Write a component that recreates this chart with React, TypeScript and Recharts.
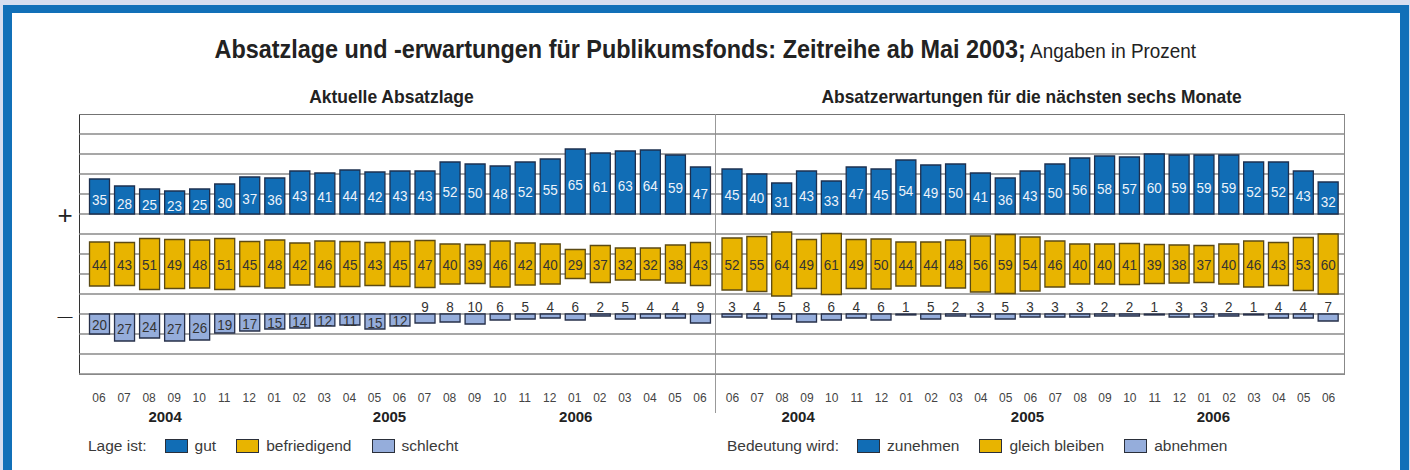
import {BarChart, Bar, XAxis, YAxis, CartesianGrid, LabelList, Legend} from 'recharts';

// Monate Juni 2004 bis Juni 2006
const months = ['06', '07', '08', '09', '10', '11', '12', '01', '02', '03', '04', '05', '06', '07', '08', '09', '10', '11', '12', '01', '02', '03', '04', '05', '06'];
const years = ['2004', '2005', '2006'];
const yearAnchor = [2, 12, 19];

// Aktuelle Absatzlage
const lageGut = [35, 28, 25, 23, 25, 30, 37, 36, 43, 41, 44, 42, 43, 43, 52, 50, 48, 52, 55, 65, 61, 63, 64, 59, 47];
const lageBefriedigend = [44, 43, 51, 49, 48, 51, 45, 48, 42, 46, 45, 43, 45, 47, 40, 39, 46, 42, 40, 29, 37, 32, 32, 38, 43];
const lageSchlecht = [20, 27, 24, 27, 26, 19, 17, 15, 14, 12, 11, 15, 12, 9, 8, 10, 6, 5, 4, 6, 2, 5, 4, 4, 9];

// Absatzerwartungen für die nächsten sechs Monate
const erwZunehmen = [45, 40, 31, 43, 33, 47, 45, 54, 49, 50, 41, 36, 43, 50, 56, 58, 57, 60, 59, 59, 59, 52, 52, 43, 32];
const erwGleich = [52, 55, 64, 49, 61, 49, 50, 44, 44, 48, 56, 59, 54, 46, 40, 40, 41, 39, 38, 37, 40, 46, 43, 53, 60];
const erwAbnehmen = [3, 4, 5, 8, 6, 4, 6, 1, 5, 2, 3, 5, 3, 3, 3, 2, 2, 1, 3, 3, 2, 1, 4, 4, 7];

const lageNames = ['gut', 'befriedigend', 'schlecht'];
const erwNames = ['zunehmen', 'gleich bleiben', 'abnehmen'];

const SANS = "'Liberation Sans', Arial, sans-serif";

const FRAME = '#1170b8';
const C_TOP = '#116db5';
const C_MID = '#e8b400';
const C_LOW = '#95addb';
const S_TOP = '#1d3050';
const S_MID = '#5b4a14';
const S_LOW = '#27304a';

// obere Balken wachsen ab 0 nach oben, mittlere um -50 zentriert, untere ab -100 nach unten
const buildRows = (top: number[], mid: number[], low: number[]) =>
    months.map((m, i) => ({
        month: m,
        top: top[i],
        mid: mid[i],
        low: low[i],
        topRange: [0, top[i]],
        midRange: [-50 - mid[i] / 2, -50 + mid[i] / 2],
        lowRange: [-100 - low[i], -100],
    }));

const gridTicks = [100, 80, 60, 40, 20, 0, -20, -40, -60, -80, -100, -120, -140, -160];

const box = (p: any) => {
    const top = Math.min(p.y, p.y + p.height);
    const h = Math.abs(p.height);
    return {cx: p.x + p.width / 2, top, h};
};

const labelText = (x: number, y: number, fill: string, v: any) => (
    <text x={x} y={y} textAnchor="middle" dominantBaseline="central" fill={fill} fontSize={15}
          fontFamily={SANS} transform={`translate(${x} 0) scale(0.9 1) translate(${-x} 0)`}>{v}</text>
);

const topLabel = (p: any) => {
    const {cx, top, h} = box(p);
    return labelText(cx, top + h / 2 + 3.5, '#eef3fa', p.value);
};

const midLabel = (p: any) => {
    const {cx, top, h} = box(p);
    return labelText(cx, top + h / 2 + 1, '#333', p.value);
};

const lowLabel = (p: any) => {
    const {cx, top, h} = box(p);
    const inside = p.value >= 11;
    return labelText(cx, inside ? top + h / 2 + 1 : top - 7, '#333', p.value);
};

const makeTick = (yearShift: number[]) => (props: any) => {
    const {x, y, payload} = props;
    const idx = payload.index ?? props.index;
    const yi = yearAnchor.indexOf(idx);
    return (
        <g>
            <text x={x} y={y + 24} textAnchor="middle" dominantBaseline="central"
                  fill="#444" fontSize={12} fontFamily={SANS}>{payload.value}</text>
            {yi >= 0 && (
                <text x={x + yearShift[yi]} y={y + 42} textAnchor="middle" dominantBaseline="central"
                      fill="#222" fontSize={15} fontWeight="bold" fontFamily={SANS}>{years[yi]}</text>
            )}
        </g>
    );
};

const makeLegend = (title: string, names: string[], padLeft: number) => (props: any) => {
    const items = [...(props.payload || [])].sort((a: any, b: any) => names.indexOf(a.value) - names.indexOf(b.value));
    return (
        <div style={{
            display: 'flex', alignItems: 'center', height: 34, paddingTop: 17, paddingLeft: padLeft,
            boxSizing: 'border-box', fontFamily: SANS, fontSize: 15.5, color: '#3a3a3a', whiteSpace: 'nowrap'
        }}>
            <span style={{marginRight: 18}}>{title}</span>
            {items.map((it: any) => (
                <span key={it.value} style={{display: 'flex', alignItems: 'center', marginRight: 20}}>
                    <span style={{
                        width: 23, height: 14, background: it.color, border: '1.5px solid #2a2f3a',
                        boxSizing: 'border-box', marginRight: 7, display: 'inline-block'
                    }}/>
                    <span>{it.value}</span>
                </span>
            ))}
        </div>
    );
};

interface PanelProps {
    top: number[];
    mid: number[];
    low: number[];
    names: string[];
    legendTitle: string;
    width: number;
    padding: { left: number; right: number };
    yearShift: number[];
    legendPad: number;
}

const Panel = ({top, mid, low, names, legendTitle, width, padding, yearShift, legendPad}: PanelProps) => {
    const rows = buildRows(top, mid, low);
    return (
        <BarChart width={width} height={340} data={rows} margin={{top: 0, right: 0, bottom: 0, left: 0}}
                  barSize={20}>
            <CartesianGrid vertical={false} stroke="#8a8a8a" strokeWidth={1.4}/>
            <YAxis type="number" domain={[-160, 100]} ticks={gridTicks} interval={0} hide allowDataOverflow/>
            <XAxis xAxisId="a" dataKey="month" interval={0} height={46} axisLine={false} tickLine={false}
                   tickSize={0} tickMargin={0} padding={padding} tick={makeTick(yearShift)}/>
            <XAxis xAxisId="b" dataKey="month" hide height={0} padding={padding}/>
            <XAxis xAxisId="c" dataKey="month" hide height={0} padding={padding}/>
            <Bar xAxisId="a" dataKey="topRange" name={names[0]} fill={C_TOP} stroke={S_TOP} strokeWidth={1.3}
                 isAnimationActive={false}>
                <LabelList dataKey="top" content={topLabel}/>
            </Bar>
            <Bar xAxisId="b" dataKey="midRange" name={names[1]} fill={C_MID} stroke={S_MID} strokeWidth={1.3}
                 isAnimationActive={false}>
                <LabelList dataKey="mid" content={midLabel}/>
            </Bar>
            <Bar xAxisId="c" dataKey="lowRange" name={names[2]} fill={C_LOW} stroke={S_LOW} strokeWidth={1.3}
                 isAnimationActive={false}>
                <LabelList dataKey="low" content={lowLabel}/>
            </Bar>
            <Legend verticalAlign="bottom" height={34} content={makeLegend(legendTitle, names, legendPad)}/>
        </BarChart>
    );
};

const squeeze = (k: number) => ({display: 'inline-block', transform: `scaleX(${k})`, transformOrigin: 'center'});

export default function App() {
    return (
        <div style={{position: 'absolute', left: 0, top: 0, width: 1410, height: 470, overflow: 'hidden',
            background: '#d6deef'}}>
            <div style={{position: 'absolute', left: 3, top: 5, width: 1406, height: 500, boxSizing: 'border-box',
                borderStyle: 'solid', borderColor: FRAME, borderWidth: '8px 9px 9px 9px', background: '#fff'}}/>

            <div style={{position: 'absolute', left: 0, top: 36, width: 1410, textAlign: 'center',
                lineHeight: '27px', color: '#222', fontFamily: SANS, whiteSpace: 'nowrap'}}>
                <span style={squeeze(0.9)}>
                    <span style={{fontSize: 26, fontWeight: 'bold'}}>Absatzlage und -erwartungen für Publikumsfonds: Zeitreihe ab Mai 2003;</span>
                    <span style={{fontSize: 21}}> Angaben in Prozent</span>
                </span>
            </div>

            <div style={{position: 'absolute', left: 241, width: 300, top: 87, textAlign: 'center', lineHeight: '19px',
                fontSize: 19, fontWeight: 'bold', fontFamily: SANS, color: '#222', whiteSpace: 'nowrap'}}>
                <span style={squeeze(0.92)}>Aktuelle Absatzlage</span>
            </div>
            <div style={{position: 'absolute', left: 782, width: 500, top: 87, textAlign: 'center', lineHeight: '19px',
                fontSize: 19, fontWeight: 'bold', fontFamily: SANS, color: '#222', whiteSpace: 'nowrap'}}>
                <span style={squeeze(0.915)}>Absatzerwartungen für die nächsten sechs Monate</span>
            </div>

            <div style={{position: 'absolute', left: 52, width: 26, top: 200, textAlign: 'center', fontSize: 26,
                lineHeight: '30px', fontFamily: SANS, color: '#222'}}>+
            </div>
            <div style={{position: 'absolute', left: 52, width: 26, top: 303, textAlign: 'center', fontSize: 15,
                lineHeight: '26px', fontFamily: SANS, color: '#222'}}>—
            </div>

            <div style={{position: 'absolute', left: 79, top: 114, width: 1266, height: 261, boxSizing: 'border-box',
                borderTop: '1.5px solid #333', borderLeft: '1.5px solid #333', borderRight: '1.5px solid #888',
                borderBottom: '1.5px solid #888'}}/>
            <div style={{position: 'absolute', left: 715, top: 114, width: 0, height: 299,
                borderLeft: '1.5px solid #999'}}/>

            <div style={{position: 'absolute', left: 79, top: 114}}>
                <Panel top={lageGut} mid={lageBefriedigend} low={lageSchlecht} names={lageNames}
                       legendTitle="Lage ist:" width={637} padding={{left: 7.5, right: 3.5}}
                       yearShift={[16, -10, 1]} legendPad={9}/>
            </div>
            <div style={{position: 'absolute', left: 716, top: 114}}>
                <Panel top={erwZunehmen} mid={erwGleich} low={erwAbnehmen} names={erwNames}
                       legendTitle="Bedeutung wird:" width={629} padding={{left: 4, right: 4}}
                       yearShift={[16, -3, 9]} legendPad={11}/>
            </div>
        </div>
    );
}
